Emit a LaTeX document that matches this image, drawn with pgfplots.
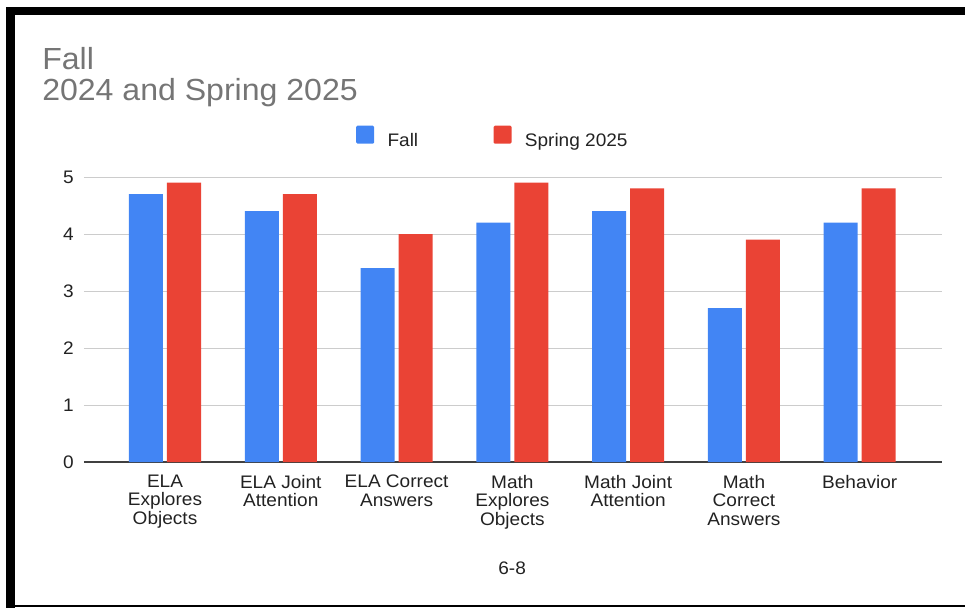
\documentclass[border=0pt]{standalone}
\usepackage{pgfplots}
\pgfplotsset{compat=1.18}
\usepackage{fontspec}
\setmainfont{Liberation Sans}[FakeStretch=1.05]
\definecolor{gblue}{HTML}{4285F4}
\definecolor{gred}{HTML}{EA4335}
\definecolor{ttl}{HTML}{757575}
\definecolor{gridc}{HTML}{CCCCCC}
\definecolor{txt}{HTML}{222222}
\begin{document}
\begin{tikzpicture}
\begin{axis}[
  name=ax,
  scale only axis, width=643.5pt, height=213.75pt,
  xmin=-0.70, xmax=6.71, ymin=0, ymax=5,
  ytick={0,1,2,3,4,5},
  xtick={0,1,2,3,4,5,6},
  xticklabels={{ELA\\Explores\\Objects},{ELA Joint\\Attention},{ELA Correct\\Answers},{Math\\Explores\\Objects},{Math Joint\\Attention},{Math\\Correct\\Answers},{Behavior}},
  axis x line*=bottom, axis y line*=left,
  y axis line style={draw=none},
  x axis line style={draw=black!75, line width=1.1pt},
  major tick length=0pt,
  ymajorgrids, grid style={draw=gridc, line width=0.75pt},
  /pgf/number format/assume math mode=true,
  tick label style={font=\fontsize{13.6}{13.9}\selectfont, text=txt},
  xticklabel style={align=center, anchor=north, inner sep=0pt, yshift=-9.5pt},
  yticklabel style={anchor=east, inner sep=0pt, xshift=-7.5pt},
  xlabel={6-8},
  xlabel style={at={(axis description cs:0.499,-0.396)}, anchor=base, inner sep=0pt, font=\fontsize{13.6}{13.9}\selectfont, text=txt},
  legend columns=2,
  legend style={at={(rel axis cs:0.317,1.14)}, anchor=west, draw=none, fill=none, inner sep=0pt,
    font=\fontsize{13.6}{13.9}\selectfont, text=txt,
    nodes={inner sep=0pt},
    /tikz/every odd column/.append style={column sep=10pt},
    /tikz/every even column/.append style={column sep=56.5pt}},
  legend image code/.code={\fill[#1, rounded corners=1pt] (0pt,-2pt) rectangle (13.5pt,11.5pt);},
  clip=false,
]
\addplot[ybar, bar width=25.5pt, bar shift=-14.25pt, fill=gblue, draw=none] coordinates {(0,4.7) (1,4.4) (2,3.4) (3,4.2) (4,4.4) (5,2.7) (6,4.2)};
\addlegendentry{Fall}
\addplot[ybar, bar width=25.5pt, bar shift=14.25pt, fill=gred, draw=none] coordinates {(0,4.9) (1,4.7) (2,4.0) (3,4.9) (4,4.8) (5,3.9) (6,4.8)};
\addlegendentry{Spring 2025}
\end{axis}
\begin{scope}[shift={(ax.origin)}, x=0.75pt, y=0.75pt]
\path[use as bounding box] (-165,-146) rectangle (800,462);
\fill[black] (-159,447) rectangle (800,455);
\fill[black] (-159,-146) rectangle (-150,455);
\fill[black] (-159,-145) rectangle (800,-143);
\node[anchor=base west, text=ttl, font=\fontsize{22.9}{23}\selectfont, inner sep=0pt] at (-123,392) {Fall};
\node[anchor=base west, text=ttl, font=\fontsize{22.9}{23}\selectfont, inner sep=0pt] at (-123,361) {2024 and Spring 2025};
\end{scope}
\end{tikzpicture}
\end{document}
